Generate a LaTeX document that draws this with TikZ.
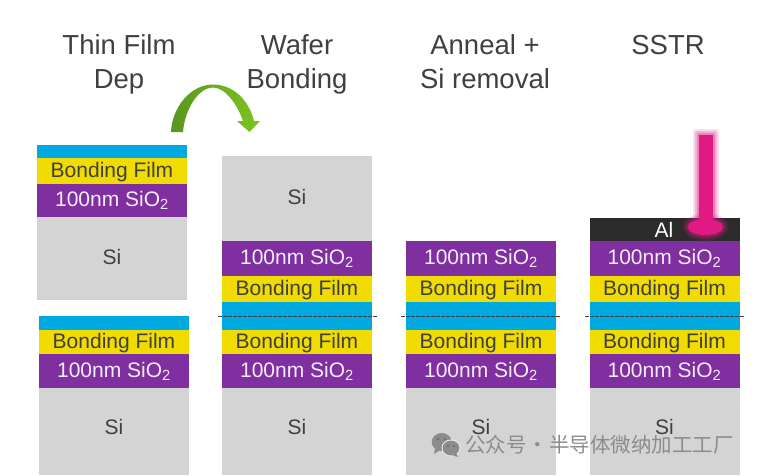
\documentclass[tikz,border=0pt]{standalone}
\usepackage{fontspec}
\setmainfont{Liberation Sans}
\newfontfamily\cjkfont{Noto Sans CJK SC}
\usetikzlibrary{calc}
\definecolor{filmBlue}{RGB}{0,169,224}
\definecolor{filmYellow}{RGB}{240,220,0}
\definecolor{filmPurple}{RGB}{127,47,160}
\definecolor{filmGrey}{RGB}{212,212,212}
\definecolor{filmDark}{RGB}{43,43,43}
\definecolor{beamPink}{RGB}{224,26,130}
\definecolor{textDark}{RGB}{64,64,64}
\definecolor{arrowDark}{RGB}{88,150,30}
\definecolor{arrowLight}{RGB}{126,196,33}
\definecolor{markGrey}{RGB}{140,140,140}

\begin{document}
\begin{tikzpicture}[
  x=1pt, y=-1pt,
  title/.style={font=\fontsize{27.5}{34}\selectfont, textDark, anchor=base},
  inlabel/.style={font=\fontsize{21}{24}\selectfont, textDark, text height=15pt, text depth=0pt},
  oxlabel/.style={font=\fontsize{21}{24}\selectfont, white!92!filmPurple, text height=15pt, text depth=0pt},
  allabel/.style={font=\fontsize{21}{24}\selectfont, white, text height=15pt, text depth=0pt},
  bondline/.style={black!75, dash pattern=on 3.5pt off 1.5pt, line width=0.7pt},
]

%% -- page, 1 unit = 1 pixel of the reference --
\useasboundingbox (0,0) rectangle (759,475);
\fill[white] (0,0) rectangle (759,475);

%% -- layer width --
\def\lw{150}

%% -- helper: one layer of a stack --
%% args: name, x-left, y-top, y-bottom, colour, label style, label
\newcommand{\filmlayer}[7]{
  \fill[#5] (#2,#3) rectangle ({#2+\lw},#4);
  \node[#6] (#1) at ({#2+\lw/2},{(#3+#4)/2-1.2}) {#7};
}

%% -- helper: the film stack and substrate below the interface --
%% args: name, x-left
\newcommand{\lowerstack}[2]{
  \fill[filmBlue] (#2,316) rectangle ({#2+\lw},330);
  \filmlayer{#1yl}{#2}{330}{354}{filmYellow}{inlabel}{Bonding Film}
  \filmlayer{#1ox}{#2}{354}{387.5}{filmPurple}{oxlabel}{100nm SiO\textsubscript{2}}
  \fill[filmGrey] (#2,387.5) rectangle ({#2+\lw},475);
  \node[inlabel] (#1si) at ({#2+\lw/2},427) {Si};
}

%% -- helper: the film stack above the interface --
%% args: name, x-left
\newcommand{\upperstack}[2]{
  \fill[filmBlue] (#2,302) rectangle ({#2+\lw},316);
  \filmlayer{#1yu}{#2}{276}{302}{filmYellow}{inlabel}{Bonding Film}
  \filmlayer{#1xu}{#2}{241}{276}{filmPurple}{oxlabel}{100nm SiO\textsubscript{2}}
}

%% -- titles --
\node[title] (tDepa)  at (119,54) {Thin Film};
\node[title] (tDepb)  at (119,88) {Dep};
\node[title] (tBonda) at (297,54) {Wafer};
\node[title] (tBondb) at (297,88) {Bonding};
\node[title] (tAnna)  at (485,54) {Anneal +};
\node[title] (tAnnb)  at (485,88) {Si removal};
\node[title] (tSstr)  at (668,54) {SSTR};

%% -- thin film dep, upper --
\fill[filmBlue] (37,145) rectangle (187,158);
\filmlayer{ayl}{37}{158}{183.5}{filmYellow}{inlabel}{Bonding Film}
\filmlayer{aox}{37}{183.5}{217}{filmPurple}{oxlabel}{100nm SiO\textsubscript{2}}
\filmlayer{asi}{37}{217}{299.5}{filmGrey}{inlabel}{Si}

%% -- thin film dep, lower --
\lowerstack{b}{39}

%% -- wafer bonding --
\filmlayer{csi}{222}{155.5}{241}{filmGrey}{inlabel}{Si}
\upperstack{c}{222}
\lowerstack{c}{222}

%% -- anneal --
\upperstack{d}{406}
\lowerstack{d}{406}

%% -- sstr --
\fill[filmDark] (589.5,218) rectangle (739.5,241);
\node[allabel] (elabel) at (664,229.8) {Al};
\upperstack{e}{589.5}
\lowerstack{e}{589.5}

%% -- bonded interface --
\coordinate (d1a) at (218,316); \coordinate (d1b) at (378,316);
\coordinate (d2a) at (401,316); \coordinate (d2b) at (561,316);
\coordinate (d3a) at (585,316.5); \coordinate (d3b) at (745,316.5);
\draw[bondline] (d1a) -- (d1b);
\draw[bondline] (d2a) -- (d2b);
\draw[bondline] (d3a) -- (d3b);

%% -- flip arrow --
\shade[left color=arrowDark, right color=arrowLight]
  (171,132) .. controls (172,108) and (190,84.5) .. (213,84.5)
  .. controls (233,84.5) and (249,100) .. (254,121)
  -- (260,121) -- (249.5,132) -- (237,121) -- (243,121)
  .. controls (238,106) and (226,87.5) .. (213,87.5)
  .. controls (199,87.5) and (185,108) .. (183,132) -- cycle;

%% -- pump beam, glow first --
\foreach \gw/\gop in {6/0.14,4/0.22,2/0.32}{
  \fill[beamPink, opacity=\gop, rounded corners=2pt]
    ({699-\gw},{135-\gw}) rectangle ({713+\gw},218);
  \fill[beamPink, opacity=\gop] (705.5,227) ellipse ({17+\gw} and {8+\gw});
}
\fill[beamPink] (699,135) rectangle (713,224);
\fill[beamPink] (705.5,227) ellipse (17.5 and 8);

%% -- watermark --
\fill[markGrey] (441.7,442) ellipse (10 and 9);
\fill[markGrey] (435,449) -- (434,454) -- (440,450) -- cycle;
\fill[white!85!markGrey] (451,448) ellipse (9.5 and 8.5);
\fill[markGrey] (451,448) ellipse (8.5 and 7.5);
\fill[markGrey] (456,453) -- (458,457) -- (452,455) -- cycle;
\foreach \ex/\ey in {438/439,445/439,448/446,454/446}{
  \fill[black!60] (\ex,\ey) circle (1.1);
}
\node[font=\cjkfont\fontsize{20.5}{24}\selectfont, markGrey, inner sep=0pt, anchor=west] (wmark)
  at (465,445) {公众号\hspace{-3.5pt} · \hspace{-3.5pt}半导体微纳加工工厂};

\end{tikzpicture}
\end{document}
